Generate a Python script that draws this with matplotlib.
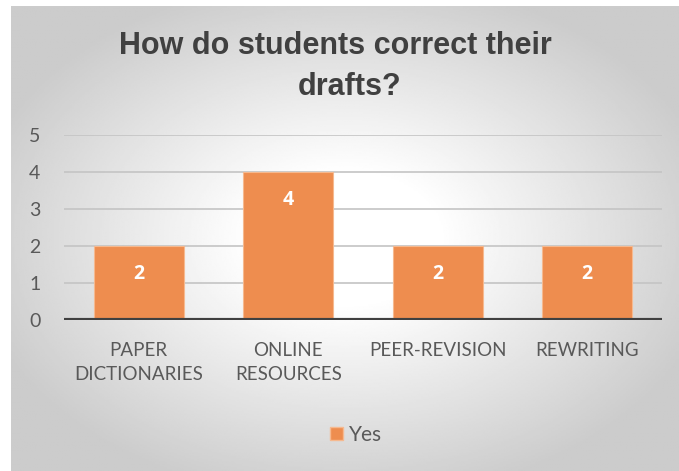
import numpy as np
import matplotlib
matplotlib.use("Agg")
import matplotlib.pyplot as plt
from matplotlib.patches import Patch

categories = ["PAPER\nDICTIONARIES", "ONLINE\nRESOURCES", "PEER-REVISION", "REWRITING"]
yes_counts = [2, 4, 2, 2]
y_ticks = [0, 1, 2, 3, 4, 5]
title_lines = ["How do students correct their", "drafts?"]

bar_color = "#EE8D4F"
text_gray = "#595959"

fig = plt.figure(figsize=(6.79, 4.71), dpi=100)

# radial gray-to-white background of the chart box
bg = fig.add_axes([11 / 679, 0, 1 - 11 / 679, 1 - 6 / 471], zorder=0)
xx, yy = np.meshgrid(np.linspace(-1, 1, 400), np.linspace(-1, 1, 300))
r = np.sqrt(xx ** 2 + yy ** 2) / np.sqrt(2)
shade = 1 - 0.2 * np.clip((r - 0.2) / 0.6, 0, 1)
bg.imshow(shade, cmap="gray", vmin=0, vmax=1, aspect="auto", extent=[0, 1, 0, 1])
bg.axis("off")

ax = fig.add_axes([64 / 679, 1 - 320 / 471, 598 / 679, 185 / 471], zorder=1)
ax.patch.set_alpha(0)

x = np.arange(len(categories))
bars = ax.bar(x, yes_counts, width=0.6, color=bar_color, edgecolor="#F6B98F",
              linewidth=0.8, zorder=3, label="Yes")
for b, v in zip(bars, yes_counts):
    ax.annotate(str(v), (b.get_x() + b.get_width() / 2, v), xytext=(0, -28),
                textcoords="offset pixels", ha="center", va="center",
                color="white", fontsize=14, fontweight="bold",
                family="Open Sans", zorder=4)

ax.set_xlim(-0.5, len(categories) - 0.5)
ax.set_ylim(0, 5)
ax.set_yticks(y_ticks)
ax.yaxis.grid(True, color="#C4C4C4", linewidth=1.2, zorder=0)
ax.axhline(0, color="#404040", linewidth=3, zorder=5)
for s in ax.spines.values():
    s.set_visible(False)
ax.tick_params(length=0)
ax.tick_params(axis="y", pad=17)
ax.tick_params(axis="x", pad=16)
ax.set_xticks(x)
ax.set_xticklabels(categories, linespacing=1.5)
for lab in ax.get_xticklabels():
    lab.set_family("Lato")
    lab.set_fontsize(13.5)
    lab.set_color(text_gray)
for lab in ax.get_yticklabels():
    lab.set_family("Lato")
    lab.set_fontsize(14)
    lab.set_color(text_gray)

fig.text(335 / 679, 1 - 46 / 471, title_lines[0], ha="center", va="center",
         fontsize=22, fontweight="bold", family="Liberation Sans", color="#404040")
fig.text(350 / 679, 1 - 87 / 471, title_lines[1], ha="center", va="center",
         fontsize=22, fontweight="bold", family="Liberation Sans", color="#404040")

leg = fig.legend(handles=[Patch(facecolor=bar_color, edgecolor="#F6B98F", label="Yes")],
                 loc="center", bbox_to_anchor=(356 / 679, 1 - 435 / 471),
                 frameon=False, handlelength=0.63, handleheight=0.63,
                 handletextpad=0.3, borderpad=0, prop={"family": "Lato", "size": 15})
for t in leg.get_texts():
    t.set_color(text_gray)

fig.savefig("out.png", dpi=100)
